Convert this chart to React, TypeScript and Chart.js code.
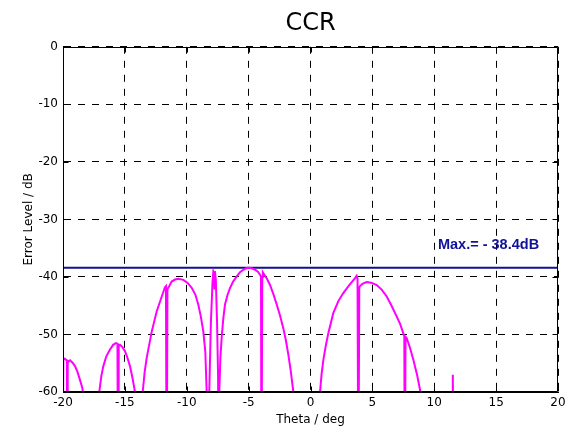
import React, { useEffect, useRef } from "react";
import { Chart, registerables } from "chart.js";

Chart.register(...registerables);

// ---- data ----
const chartTitle = "CCR";
const xAxisTitle = "Theta / deg";
const yAxisTitle = "Error Level / dB";
const xTicks = [-20, -15, -10, -5, 0, 5, 10, 15, 20];
const yTicks = [-60, -50, -40, -30, -20, -10, 0];

// Error level curve (theta in deg, level in dB); values below -60 are clipped
const thetaDeg = [
  -20.05, -19.97, -19.85, -19.72, -19.68, -19.65, -19.62, -19.55, -19.43, -19.23, -19.03, -18.83, -18.63, -18.45, -18.3, -18.15,
  -17.2, -17.07, -16.9, -16.74, -16.5, -16.2, -15.95, -15.72, -15.6, -15.55, -15.5, -15.39, -15.2, -14.99, -14.8, -14.59, -14.4, -14.18, -14.05,
  -13.7, -13.56, -13.4, -13.24, -12.83, -12.43, -12.02, -11.76, -11.68, -11.62, -11.56, -11.49, -11.22, -10.95, -10.68, -10.28, -9.95, -9.6, -9.3, -9.07, -8.86, -8.66, -8.5, -8.39, -8.3,
  -8.25, -8.18, -8.05, -7.92, -7.85, -7.8, -7.76, -7.72, -7.65, -7.55, -7.47, -7.42,
  -7.37, -7.28, -7.18, -7.05, -6.91, -6.7, -6.5, -6.25, -5.96, -5.7, -5.43, -5.2, -5.0, -4.75, -4.48, -4.25, -4.08, -4.0, -3.96, -3.9, -3.85, -3.7, -3.5, -3.27, -3.0, -2.73, -2.45, -2.2, -1.99, -1.79, -1.6, -1.39, -1.3, -1.2,
  0.65, 0.77, 0.9, 1.04, 1.24, 1.44, 1.84, 2.25, 2.65, 3.1, 3.6, 3.73, 3.8, 3.87, 3.94, 4.0, 4.2, 4.4, 4.54, 4.9, 5.35, 5.75, 6.16, 6.55, 6.97, 7.25, 7.5, 7.58, 7.62, 7.68, 7.77, 8.05, 8.31, 8.6, 8.85, 8.95, 9.05,
  11.44, 11.5, 11.56,
];
const errorDb = [
  -80, -54.4, -54.2, -54.5, -54.6, -80, -54.6, -54.7, -54.5, -54.9, -55.5, -56.5, -57.9, -59.2, -61, -80,
  -80, -60, -57.2, -55.5, -53.8, -52.6, -51.8, -51.5, -51.6, -80, -51.8, -51.8, -52.2, -52.9, -54.0, -55.5, -57.4, -60, -80,
  -80, -60, -56.5, -54.1, -49.5, -46.0, -43.4, -41.8, -41.6, -80, -42.0, -41.9, -40.8, -40.45, -40.3, -40.5, -41.0, -41.9, -43.1, -44.8, -46.9, -49.5, -53, -60, -80,
  -80, -60, -48, -41, -39.0, -39.2, -42, -39.0, -40.5, -48, -57, -80,
  -60, -54, -50.6, -47.3, -44.8, -43.1, -41.9, -40.8, -39.9, -39.2, -38.75, -38.5, -38.4, -38.5, -38.75, -39.1, -39.6, -40, -80, -40, -39.2, -39.7, -40.4, -41.4, -43.0, -44.8, -46.8, -48.9, -51.0, -53.5, -56.3, -59.9, -62, -80,
  -80, -60, -56.8, -54.4, -51.9, -49.8, -46.3, -44.2, -42.8, -41.5, -40.2, -39.8, -40.3, -80, -41.8, -41.6, -41.2, -41.0, -40.9, -41.0, -41.4, -42.2, -43.4, -45.0, -46.9, -48.2, -49.8, -50.3, -80, -50.4, -50.6, -52.4, -54.4, -56.9, -59.6, -62, -80,
  -80, -57.0, -80,
];

const maxLevel = -38.4;
const maxLabel = "Max.= - 38.4dB";
const maxLabelPos = { x: 10.3, y: -34.5 };

const framePlugin = {
  id: "matlabFrame",
  afterLayout(chart: any) {
    const tb = chart.titleBlock;
    if (tb) {
      const w = tb.right - tb.left;
      tb.left = chart.chartArea.left;
      tb.right = chart.chartArea.right;
      tb.width = tb.right - tb.left || w;
    }
  },
  afterDatasetsDraw(chart: any) {
    const { ctx, chartArea: a, scales } = chart;
    ctx.save();
    ctx.strokeStyle = "#000";
    ctx.lineWidth = 1;
    ctx.setLineDash([]);
    ctx.beginPath();
    const L = Math.round(a.left) + 0.5;
    const R = Math.round(a.right) - 0.5;
    const T = Math.round(a.top) + 0.5;
    const B = Math.round(a.bottom) - 0.5;
    ctx.rect(L, T, R - L, B - T);
    const tl = 5;
    xTicks.forEach((v) => {
      const px = Math.round(scales.x.getPixelForValue(v)) + 0.5;
      ctx.moveTo(px, T);
      ctx.lineTo(px, T + tl);
      ctx.moveTo(px, B);
      ctx.lineTo(px, B - tl);
    });
    yTicks.forEach((v) => {
      const py = Math.round(scales.y.getPixelForValue(v)) + 0.5;
      ctx.moveTo(L, py);
      ctx.lineTo(L + tl, py);
      ctx.moveTo(R, py);
      ctx.lineTo(R - tl, py);
    });
    ctx.stroke();
    // max annotation text
    ctx.fillStyle = "#10109a";
    ctx.font = 'bold 14.5px "Liberation Sans", Arial, sans-serif';
    ctx.textAlign = "left";
    ctx.textBaseline = "middle";
    ctx.fillText(
      maxLabel,
      scales.x.getPixelForValue(maxLabelPos.x),
      scales.y.getPixelForValue(maxLabelPos.y)
    );
    ctx.restore();
  },
};

export default function App() {
  const ref = useRef<HTMLCanvasElement | null>(null);
  useEffect(() => {
    if (!ref.current) return;
    const curve = thetaDeg.map((x, i) => ({ x, y: errorDb[i] }));
    const maxLine = [
      { x: xTicks[0], y: maxLevel },
      { x: xTicks[xTicks.length - 1], y: maxLevel },
    ];
    const font = { family: '"DejaVu Sans", sans-serif', size: 12 };
    const chart = new Chart(ref.current, {
      type: "line",
      data: {
        datasets: [
          {
            label: "Error level",
            data: curve,
            borderColor: "#ff00ff",
            borderWidth: 2,
            pointRadius: 0,
            tension: 0,
            fill: false,
          },
          {
            label: "Max",
            data: maxLine,
            borderColor: "#10109a",
            borderWidth: 2,
            pointRadius: 0,
            fill: false,
          },
        ],
      },
      options: {
        responsive: false,
        animation: false,
        layout: { padding: { top: 0, right: 14, left: 0, bottom: 0 } },
        plugins: {
          legend: { display: false },
          tooltip: { enabled: false },
          title: {
            display: true,
            text: chartTitle,
            color: "#000",
            font: { family: '"DejaVu Sans", sans-serif', size: 24, weight: "normal" },
            padding: { top: 9, bottom: 9 },
          },
        },
        scales: {
          x: {
            type: "linear",
            min: -20,
            max: 20,
            afterFit: (s: any) => {
              s.height = 41;
            },
            afterBuildTicks: (s: any) => {
              s.ticks = xTicks.map((v) => ({ value: v }));
            },
            ticks: { color: "#000", font, padding: 4, maxRotation: 0 },
            grid: { color: "#000", lineWidth: 1, drawTicks: false },
            border: { display: true, color: "#000", width: 1, dash: [7, 7] },
            title: {
              display: true,
              text: xAxisTitle,
              color: "#000",
              font,
              padding: { top: 0, bottom: 6 },
            },
          },
          y: {
            type: "linear",
            min: -60,
            max: 0,
            afterFit: (s: any) => {
              s.width = 63;
            },
            afterBuildTicks: (s: any) => {
              s.ticks = yTicks.map((v) => ({ value: v }));
            },
            ticks: { color: "#000", font, padding: 5 },
            grid: { color: "#000", lineWidth: 1, drawTicks: false },
            border: { display: true, color: "#000", width: 1, dash: [7, 7] },
            title: {
              display: true,
              text: yAxisTitle,
              color: "#000",
              font,
              padding: { top: 22, bottom: 0 },
            },
          },
        },
      },
      plugins: [framePlugin],
    });
    return () => chart.destroy();
  }, []);
  return (
    <div style={{ position: "absolute", left: 0, top: 0, width: 572, height: 433, background: "#fff" }}>
      <canvas ref={ref} width={572} height={433} />
    </div>
  );
}
